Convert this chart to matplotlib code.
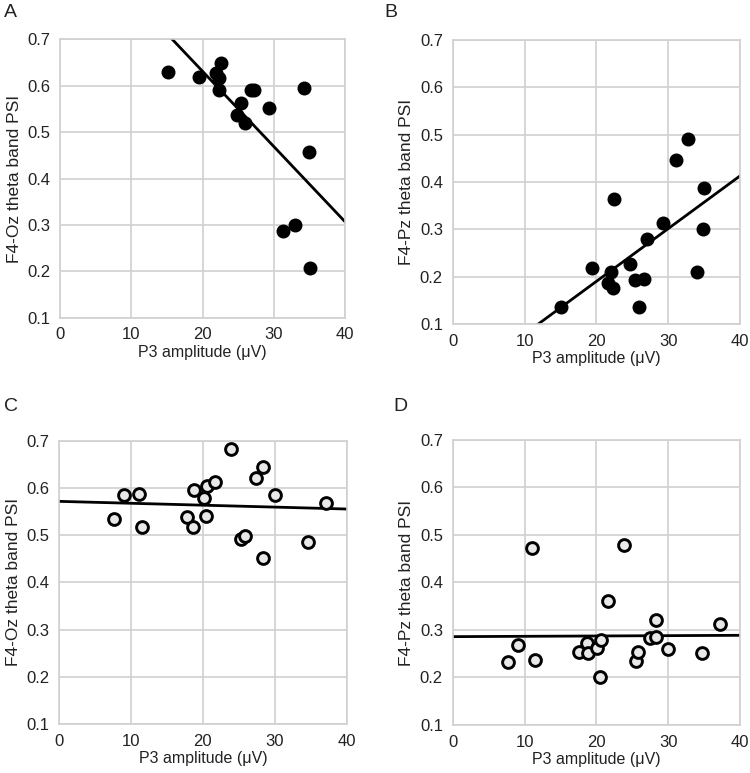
import numpy as np
import matplotlib
matplotlib.use("Agg")
import matplotlib.pyplot as plt

plt.rcParams['font.family'] = ['Liberation Sans', 'DejaVu Sans']

# ---- data ----
p3_A = [15.1, 19.46, 21.85, 22.3, 22.6, 22.3, 25.4, 24.84, 25.96, 26.76, 27.27, 29.38, 34.2, 34.95, 31.3, 32.94, 35.04]
psi_A = [0.630, 0.620, 0.628, 0.617, 0.649, 0.590, 0.5635, 0.537, 0.520, 0.592, 0.590, 0.553, 0.595, 0.458, 0.286, 0.300, 0.208]
trend_A = (-0.01622, 0.9558)  # slope, intercept

p3_B = [15.03, 19.35, 22.09, 21.67, 22.27, 22.46, 24.69, 25.34, 26.68, 25.9, 27.0, 29.28, 31.09, 32.7, 34.94, 34.85, 34.06]
psi_B = [0.135, 0.218, 0.209, 0.186, 0.177, 0.364, 0.226, 0.193, 0.196, 0.135, 0.280, 0.313, 0.447, 0.491, 0.387, 0.300, 0.209]
trend_B = (0.01114, -0.0329)

p3_C = [7.61, 9.05, 11.04, 11.46, 17.73, 18.65, 18.75, 20.09, 20.56, 20.46, 21.62, 23.85, 25.24, 25.85, 27.43, 28.31, 28.31, 30.02, 34.66, 37.17]
psi_C = [0.534, 0.586, 0.588, 0.518, 0.538, 0.518, 0.5955, 0.579, 0.604, 0.541, 0.6125, 0.682, 0.491, 0.499, 0.620, 0.644, 0.451, 0.584, 0.485, 0.567]
trend_C = (-0.000405, 0.5715)

p3_D = [7.66, 9.14, 11.09, 11.46, 17.63, 18.7, 18.79, 20.09, 20.65, 20.51, 21.58, 23.9, 25.48, 25.8, 27.47, 28.35, 28.26, 30.02, 34.76, 37.17]
psi_D = [0.233, 0.268, 0.472, 0.237, 0.254, 0.273, 0.252, 0.262, 0.279, 0.201, 0.362, 0.478, 0.235, 0.254, 0.284, 0.285, 0.322, 0.261, 0.252, 0.313]
trend_D = (0.00007, 0.286)

x_ticks = [0, 10, 20, 30, 40]
y_ticks = [0.1, 0.2, 0.3, 0.4, 0.5, 0.6, 0.7]
xlabel = "P3 amplitude (\u03bcV)"
ylabels = ["F4-Oz theta band PSI", "F4-Pz theta band PSI", "F4-Oz theta band PSI", "F4-Pz theta band PSI"]
letters = ["A", "B", "C", "D"]

fig = plt.figure(figsize=(7.5, 7.73), dpi=100)

rects = [
    [0.080, 0.589, 0.380, 0.360],
    [0.6036, 0.5809, 0.383, 0.3674],
    [0.079, 0.0634, 0.383, 0.3665],
    [0.6036, 0.0621, 0.383, 0.3687],
]
letter_pos = [(0.005, 0.995), (0.513, 0.995), (0.005, 0.485), (0.525, 0.485)]

panels = [
    (p3_A, psi_A, trend_A, True),
    (p3_B, psi_B, trend_B, True),
    (p3_C, psi_C, trend_C, False),
    (p3_D, psi_D, trend_D, False),
]

grid_c = '#d0d0d0'
for i, (xs, ys, tr, filled) in enumerate(panels):
    ax = fig.add_axes(rects[i])
    ax.set_xlim(0, 40)
    ax.set_ylim(0.1, 0.7)
    ax.set_xticks(x_ticks)
    ax.set_yticks(y_ticks)
    ax.set_yticklabels([f"{v:.1f}" for v in y_ticks])
    ax.grid(True, color=grid_c, linewidth=1.2)
    ax.set_axisbelow(True)
    for s in ax.spines.values():
        s.set_color(grid_c)
        s.set_linewidth(1.2)
    ax.tick_params(length=0, labelsize=12, colors='#222222', pad=7)
    lx = np.array([0, 40])
    ax.plot(lx, tr[0] * lx + tr[1], color='black', linewidth=2.0, zorder=2)
    if filled:
        ax.scatter(xs, ys, s=82, color='black', zorder=3, clip_on=False)
    else:
        ax.scatter(xs, ys, s=72, facecolor='#e8e8e8', edgecolor='black', linewidth=2.1, zorder=3, clip_on=False)
    ax.set_xlabel(xlabel, fontsize=11.5, color='#222222', labelpad=2)
    ax.set_ylabel(ylabels[i], fontsize=12.5, color='#222222', labelpad=4)
    fig.text(letter_pos[i][0], letter_pos[i][1], letters[i], fontsize=14, ha='left', va='top', color='#222222')

fig.savefig("out.png", dpi=100)
